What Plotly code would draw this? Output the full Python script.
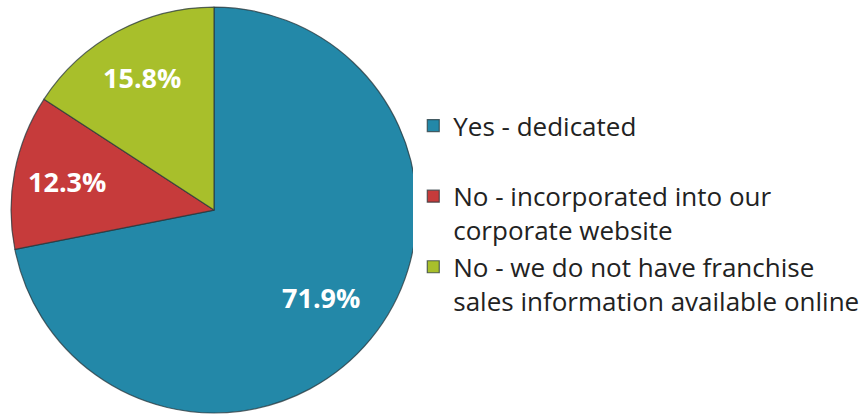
import math
import plotly.graph_objects as go

# Survey answers and their shares (percent)
labels = [
    "Yes - dedicated<br> ",
    "No - incorporated into our<br>corporate website",
    "No - we do not have franchise<br>sales information available online",
]
values = [71.9, 12.3, 15.8]
colors = ["#2388A8", "#C63B3B", "#A8BF2B"]

W, H = 861, 417
dom_x = [0.0128, 0.4843]
dom_y = [0.0096, 0.983]

fig = go.Figure(
    go.Pie(
        labels=labels,
        values=values,
        sort=False,
        direction="clockwise",
        rotation=0,
        textinfo="none",
        hoverinfo="label+percent",
        marker=dict(colors=colors, line=dict(color="rgba(40,55,60,0.75)", width=1.2)),
        domain=dict(x=dom_x, y=dom_y),
    )
)

# Percentage labels placed along each slice's mid-angle
cx = (dom_x[0] + dom_x[1]) / 2
cy = (dom_y[0] + dom_y[1]) / 2
R = min((dom_x[1] - dom_x[0]) * W, (dom_y[1] - dom_y[0]) * H) / 2
radial = [0.68, 0.74, 0.74]
total = sum(values)
start = 0.0
for v, rf in zip(values, radial):
    mid = (start + v / 2) / total * 2 * math.pi
    start += v
    dx = rf * R * math.sin(mid) / W
    dy = rf * R * math.cos(mid) / H
    fig.add_annotation(
        x=cx + dx, y=cy + dy, xref="paper", yref="paper",
        xanchor="center", yanchor="middle",
        text=f"{v:.1f}%", showarrow=False,
        font=dict(family="Open Sans", size=27, color="white", weight="bold"),
    )

fig.update_layout(
    width=W, height=H,
    margin=dict(l=0, r=0, t=0, b=0, autoexpand=False),
    paper_bgcolor="white",
    plot_bgcolor="white",
    showlegend=True,
    legend=dict(
        x=0.480, y=0.755, xanchor="left", yanchor="top",
        valign="top",
        font=dict(family="Open Sans", size=26, color="#222222"),
        itemwidth=30,
        tracegroupgap=0,
    ),
)

fig.write_html("out.html")
